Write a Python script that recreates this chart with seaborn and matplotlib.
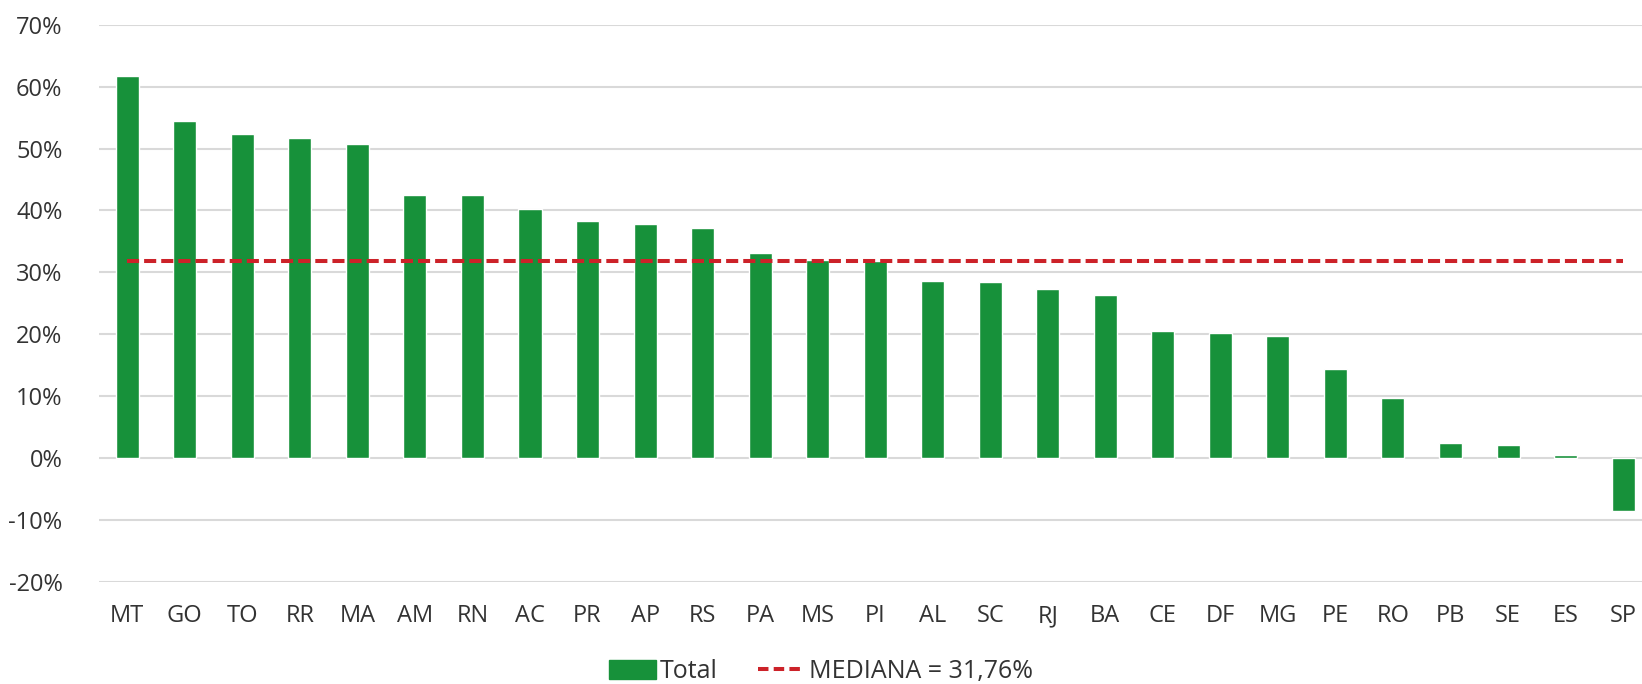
import numpy as np
import pandas as pd
import seaborn as sns
import matplotlib.pyplot as plt
from matplotlib.lines import Line2D
from matplotlib.patches import Patch
from matplotlib.ticker import MultipleLocator, FuncFormatter

estados = ['MT', 'GO', 'TO', 'RR', 'MA', 'AM', 'RN', 'AC', 'PR', 'AP', 'RS', 'PA', 'MS', 'PI',
           'AL', 'SC', 'RJ', 'BA', 'CE', 'DF', 'MG', 'PE', 'RO', 'PB', 'SE', 'ES', 'SP']
total = [0.617, 0.544, 0.524, 0.517, 0.508, 0.425, 0.425, 0.403, 0.383, 0.378, 0.371, 0.332, 0.320, 0.319,
         0.286, 0.285, 0.273, 0.264, 0.205, 0.202, 0.197, 0.144, 0.097, 0.024, 0.022, 0.005, -0.086]
mediana = 0.3176

verde = '#17913a'
vermelho = '#cc2229'
cinza = '#333333'

sns.set_theme(style='white')
plt.rcParams['font.family'] = ['Open Sans', 'DejaVu Sans']

df = pd.DataFrame({'estado': estados, 'total': total})

fig = plt.figure(figsize=(16.42, 6.84), dpi=100)
ax = fig.add_axes([0.060, 0.149, 0.946, 0.815])

sns.barplot(data=df, x='estado', y='total', color=verde, saturation=1, width=0.4, ax=ax)
# linha da mediana
ax.plot(range(len(estados)), [mediana] * len(estados), color=vermelho, lw=2.9, ls=(0, (3.0, 1.25)))

ax.set_ylim(-0.20, 0.70)
ax.set_xlim(-0.5, len(estados) - 0.5)
ax.yaxis.set_major_locator(MultipleLocator(0.10))
ax.yaxis.set_major_formatter(FuncFormatter(lambda v, p: f'{v * 100:.0f}%'))
ax.grid(axis='y', color='#d9d9d9', lw=1.5)
ax.set_axisbelow(True)
for s in ax.spines.values():
    s.set_visible(False)
ax.set_xlabel('')
ax.set_ylabel('')
ax.tick_params(axis='both', length=0, labelsize=17, labelcolor=cinza)
ax.tick_params(axis='x', pad=16)
ax.tick_params(axis='y', pad=26)

handles = [Patch(color=verde, label='Total'),
           Line2D([0], [0], color=vermelho, lw=2.9, ls=(0, (2.6, 1.3)), label='MEDIANA = 31,76%')]
fig.legend(handles=handles, loc='center', bbox_to_anchor=(0.5, 0.018), ncol=2, frameon=False,
           fontsize=18, labelcolor=cinza, handlelength=1.9, handleheight=0.75,
           handletextpad=0.15, columnspacing=1.6)

fig.savefig('out.png', dpi=100)
